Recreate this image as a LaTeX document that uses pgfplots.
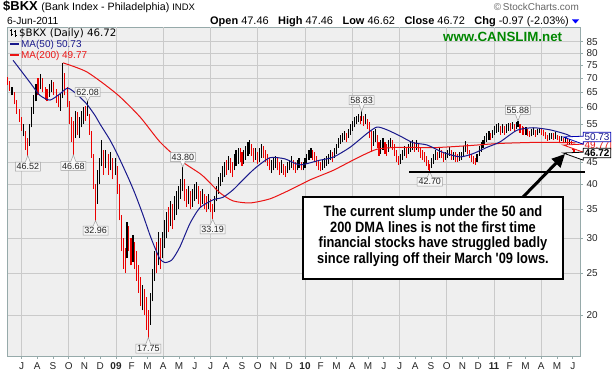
\documentclass[border=0pt]{standalone}
\usepackage{pgfplots}
\pgfplotsset{compat=1.18}
\usepackage{pgfplotstable}
\usepackage{fontspec}
\setmainfont{Liberation Sans}
\newfontfamily\annfont[FakeStretch=0.86]{Liberation Sans}
\newfontfamily\dejavu{DejaVu Sans}
\usetikzlibrary{arrows.meta,shapes.callouts}

\definecolor{bgc}{RGB}{239,239,239}
\definecolor{gridc}{RGB}{202,202,202}
\definecolor{framec}{RGB}{150,170,170}
\definecolor{ma50c}{RGB}{25,25,140}
\definecolor{ma200c}{RGB}{235,20,20}
\definecolor{downc}{RGB}{235,0,0}
\definecolor{canslim}{RGB}{0,135,0}

% daily-ish OHLC ranges: x = months since 1-Jul-2008, lo, hi, d (1 = up/black, 0 = down/red)
\pgfplotstableread{
x lo hi d
-0.90 67.5 70.5 0
-0.75 65.5 69 0
-0.60 64 67 1
-0.45 61 65 0
-0.30 58 62.5 0
-0.15 55.5 59.5 0
0.00 53 57 0
0.15 51.5 55 1
0.28 48 53 0
0.40 46.52 51 0
0.52 49 55 1
0.65 54 60 1
0.78 58 64 1
0.92 62 68 1
1.05 64 70 0
1.20 66 71.5 1
1.35 65 70 0
1.50 62.5 67 0
1.62 62 66 0
1.75 63.5 68 1
1.90 65 69.5 1
2.05 64 68.5 0
2.20 61.5 66 0
2.35 60 64 0
2.50 59 64.5 1
2.62 63 75.9 1
2.75 64 72 0
2.90 60 67 0
3.05 55 62 0
3.18 50 57 0
3.29 46.68 56 0
3.42 51 59 1
3.55 52 58.5 0
3.68 51 57 1
3.82 54 59 1
3.95 55 60 1
4.08 56 60.5 0
4.20 57.5 62.08 1
4.32 52 58 0
4.45 46 53 0
4.58 39 47 0
4.70 32.96 40 0
4.82 36 43 1
4.95 40 46 1
5.08 44 50.5 1
5.20 42 48 0
5.35 43.5 48 1
5.50 42 47 0
5.65 43 47.5 1
5.80 41 46 0
5.95 42 46 1
6.10 38 44 0
6.22 33 40 0
6.35 28 34 0
6.48 25.5 30 0
6.58 25 28.5 0
6.70 27 32.8 1
6.82 28 32 0
6.95 26 30 0
7.08 26.5 30.5 1
7.20 25.5 29.5 0
7.32 24 28 0
7.45 22.5 26 0
7.58 21 24.5 0
7.70 20.5 23.5 1
7.82 20 23 0
7.95 18.5 22 0
8.05 17.75 20.5 0
8.18 19 22.5 1
8.30 21.5 25.5 1
8.45 24 28 1
8.58 25 29.5 0
8.70 26 31 1
8.85 25.5 30 0
8.97 27 31 1
9.10 28.5 33 1
9.22 30 34.5 1
9.35 31 35.5 0
9.48 32 36.5 1
9.60 31.5 36 0
9.72 33 37.5 1
9.85 34 38.5 1
9.97 35 39.5 1
10.10 37 41 1
10.24 38.5 43.8 1
10.36 36.5 41 0
10.50 35.5 39 0
10.62 36 39.5 1
10.75 35 38.5 0
10.88 35.5 39 1
11.00 36.5 40 1
11.12 37 40.5 1
11.25 36 39.5 0
11.38 35.5 38.5 0
11.50 36 39 1
11.62 35 38 0
11.75 34.5 37.5 0
11.88 35 38 1
12.00 34.5 37 0
12.14 33.19 36 0
12.26 34.5 37.5 1
12.38 36.5 39.5 1
12.50 38 41.5 1
12.62 39.5 42.5 1
12.75 40.5 44 1
12.88 41.5 45 1
13.00 42 45.5 0
13.12 43 46.5 1
13.25 42.5 46 0
13.38 41.5 45 0
13.50 43 47 1
13.62 44 48 1
13.75 44.5 48.5 1
13.88 45 48.5 0
14.00 44 47.5 0
14.12 44.5 48 1
14.25 45.5 49 1
14.38 46.5 50 1
14.50 47 50.5 1
14.62 46.5 49.5 0
14.75 45 48.5 0
14.88 45.5 48.5 1
15.00 44.5 47.5 0
15.12 45 48.5 1
15.25 46 49.5 1
15.38 46 49 0
15.50 45 48 0
15.62 44 47 0
15.75 43 46 0
15.88 42.5 45.5 1
16.00 43 46 1
16.12 43.5 46.5 1
16.25 43 46 0
16.38 42 45 0
16.50 42.5 45.5 1
16.62 42 44.5 0
16.75 41.5 44 0
16.88 42.5 45 1
17.00 43 45.5 1
17.12 43.5 46.5 1
17.25 43 45.5 0
17.38 42.5 45 0
17.50 43 45.5 1
17.62 43.5 46 1
17.75 43 45 0
17.88 43 45 1
18.00 43.5 46 1
18.12 44.5 47 1
18.25 45.5 48 1
18.38 46 48.5 1
18.50 45.5 48 0
18.62 45 47.5 0
18.75 44 46.5 0
18.88 43 45.5 0
19.00 42.8 45 0
19.12 43.2 45.5 1
19.25 43.5 46 1
19.38 44 46.5 1
19.50 44.5 47 1
19.62 45.5 48 1
19.75 45 47.5 0
19.88 46 48.5 1
20.00 47 49.5 1
20.12 48.5 51 1
20.25 49.5 52 1
20.38 50 52.5 1
20.50 50.5 53 1
20.62 50 52.5 0
20.75 51 53.5 1
20.88 52 55 1
21.00 53 56 1
21.12 54 57 1
21.25 55 57.5 1
21.38 55.5 58 1
21.50 55 57.5 0
21.60 56 58.83 1
21.72 54.5 57.5 0
21.85 55 58 1
21.97 53.5 56.5 0
22.10 51 55.5 0
22.20 47.5 53 0
22.32 49 53 1
22.45 50 53.5 1
22.58 48.5 52 0
22.70 46.5 50 0
22.82 47 50.5 1
22.95 48 51 1
23.08 47 50 0
23.20 46.5 49.5 0
23.32 47.5 50.5 1
23.45 48.5 51 1
23.58 48 50.5 0
23.70 46.5 49.5 0
23.82 45 48 0
23.95 44.3 46.5 0
24.08 44.5 47 1
24.20 45.5 48 1
24.32 46.5 49 1
24.45 46 48.5 0
24.58 47 49.5 1
24.70 47.5 50 1
24.82 48 50.5 1
24.95 47.5 50 0
25.08 48 50.5 1
25.20 47.5 49.5 0
25.32 46 48.5 0
25.45 45.5 48 0
25.58 45 47.5 0
25.70 44 46.5 0
25.82 43 45.5 0
25.92 42.7 44.5 0
26.05 43.5 46 1
26.18 44.5 47 1
26.30 45.5 48 1
26.42 45.5 47.5 0
26.55 46 48.5 1
26.68 46 48 0
26.80 45 47.5 0
26.92 45.5 47.5 1
27.05 46 48 1
27.18 46.5 48.6 1
27.30 45.5 48 0
27.42 45.5 47.5 1
27.55 45 47.5 0
27.68 45 47 0
27.80 45.2 47.3 1
27.92 45.5 47.5 1
28.05 46.5 49 1
28.18 47.5 50.3 1
28.30 47 49.5 0
28.42 46 48 0
28.55 45 47 0
28.68 44.5 46.5 0
28.80 44.2 46 0
28.92 45 47 1
29.05 46.5 49 1
29.18 47.5 50 1
29.30 48.5 50.5 1
29.42 49.5 51.5 1
29.55 50 52.5 1
29.68 50.5 53 1
29.80 50.5 52.5 0
29.92 51 53.3 1
30.05 52 54.5 1
30.18 52.5 55 1
30.30 52.8 55.4 1
30.42 52 54.5 0
30.55 52.5 55 1
30.68 52 54.5 0
30.80 52.5 55 1
30.92 53 55.2 1
31.05 53 55.3 0
31.18 53.5 55.5 1
31.30 53 55 0
31.42 53.5 55.6 1
31.52 54 55.88 1
31.65 52.5 55 0
31.78 52 54.3 0
31.90 51.8 54 0
32.03 52 54 1
32.15 51.5 53.5 0
32.28 51.2 53 0
32.40 51.5 53.5 1
32.52 51.8 53.8 1
32.65 51.3 53.3 0
32.78 51.8 53.5 1
32.90 52.3 53.9 1
33.03 52 53.5 0
33.15 51.5 53.3 0
33.28 50.8 52.8 0
33.40 50.3 52 0
33.52 50.5 52.3 1
33.65 50.8 52.5 1
33.78 50.5 52.3 0
33.90 50.8 52.6 1
34.03 50.5 52 0
34.15 50 51.6 0
34.28 50.2 51.5 1
34.40 49.6 51 0
34.52 49.8 51.2 1
34.65 49 50.8 0
34.78 49.3 50.9 1
34.90 48.5 50.3 0
35.00 47.8 49.5 0
35.08 47.3 48.6 0
35.16 46.62 47.46 0
}\bars

\tikzset{
  lbl/.style={rectangle callout, draw=black!38, fill=white!97!black, inner sep=1.3bp,
    font=\fontsize{9}{10}\selectfont, text=black!85, callout pointer width=5bp, line width=0.5bp},
  rlbl/.style={rectangle callout, fill=white, inner sep=1.3bp,
    font=\fontsize{10}{11}\selectfont, line width=0.8bp, callout pointer width=8bp},
}

\begin{document}
\begin{tikzpicture}[x=1bp,y=1bp]
\useasboundingbox (-7,-18) rectangle (607,356);
\begin{axis}[
  scale only axis, width=573bp, height=328.5bp,
  at={(0,0)}, anchor=south west,
  xmin=-0.9206, xmax=35.46,
  ymode=log, ymin=16.10, ymax=91.64,
  axis background/.style={fill=bgc},
  axis line style={framec, line width=0.8bp},
  xtick={0,...,35},
  xticklabels={J,A,S,O,N,D,\textbf{09},F,M,A,M,J,J,A,S,O,N,D,\textbf{10},F,M,A,M,J,J,A,S,O,N,D,\textbf{11},F,M,A,M,J},
  xtick pos=left, ytick pos=right, yticklabel pos=right,
  tick align=outside, major tick length=3bp,
  tick style={framec, line width=0.6bp},
  extra x ticks={0,3,6,9,12,15,18,21,24,27,30,33},
  extra x tick labels={},
  extra x tick style={grid=major, major tick length=0pt},
  ytick={20,25,30,35,40,45,50,55,60,65,70,75,80,85},
  yticklabels={20,25,30,35,40,45,50,55,60,65,70,75,80,85},
  ymajorgrids, grid style={gridc, line width=0.6bp},
  ticklabel style={font=\fontsize{10}{12}\selectfont, text=black!85},
  /pgf/number format/assume math mode=true,
  clip mode=individual,
]
% down bars (red)
\addplot[draw=none, mark=none, forget plot, restrict expr to domain={\thisrow{d}}{-0.5:0.5},
  error bars/.cd, y dir=plus, y explicit, error mark=none,
  error bar style={draw=downc, line width=1.1bp}]
  table[x=x, y=lo, y error expr=\thisrow{hi}-\thisrow{lo}] {\bars};
% up bars (black)
\addplot[draw=none, mark=none, forget plot, restrict expr to domain={\thisrow{d}}{0.5:1.5},
  error bars/.cd, y dir=plus, y explicit, error mark=none,
  error bar style={draw=black, line width=1.1bp}]
  table[x=x, y=lo, y error expr=\thisrow{hi}-\thisrow{lo}] {\bars};
% MA(200) (visible from under the legend)
\addplot[ma200c, line width=1bp, smooth, tension=0.4] coordinates {
(2.63,76) (4.16,72.4) (6.06,64.4) (7.52,57.1) (8.79,50) (10.06,45.4)
(11.33,42.3) (11.78,40.9) (12.60,38.2) (13.43,36.6) (14.51,36.2) (15.78,37) (17.05,38.8)
(18.32,40.9) (19.78,43) (21.30,45.9) (22.57,48.1) (24.03,48.6) (26.13,48.5) (28.29,49.0)
(30.38,49.6) (32.92,49.9) (35.16,49.77)};
% MA(50)
\addplot[ma50c, line width=1bp, smooth, tension=0.4] coordinates {
(-0.54,77) (-0.41,76) (0.54,68.5) (1.17,64) (1.81,62.4) (2.44,64.5) (2.95,66.5) (3.59,64)
(4.16,61) (4.67,57.5) (4.98,55) (5.62,50.5) (6.13,46.5) (6.76,41.5) (7.21,38) (7.71,34)
(8.16,30.5) (8.48,28.5) (8.79,26.9) (9.11,26.4) (9.56,26.8) (10.06,28.7) (10.70,32.5)
(11.33,35.3) (12.16,36.8) (12.79,37.3) (13.43,38.8) (14.06,40.9) (14.83,43.5) (15.78,46)
(16.73,45.7) (17.68,44.3) (18.95,45.4) (19.78,46.1) (20.86,48.6) (21.94,52.3) (22.57,54.1)
(23.21,53.3) (24.03,51.6) (24.86,49.8) (25.75,49.2) (26.76,47.3) (27.84,46.2) (28.67,47)
(29.56,48.6) (30.38,50) (31.46,53.2) (32.48,53.9) (33.56,53.3) (34.63,52) (35.16,50.73)};
% anchor points of the value call-outs
\coordinate (c1) at (axis cs:0.40,46.52);
\coordinate (c2) at (axis cs:3.29,46.68);
\coordinate (c3) at (axis cs:4.20,62.08);
\coordinate (c4) at (axis cs:4.70,32.96);
\coordinate (c5) at (axis cs:10.24,43.8);
\coordinate (c6) at (axis cs:8.05,17.75);
\coordinate (c7) at (axis cs:12.14,33.19);
\coordinate (c8) at (axis cs:21.60,58.83);
\coordinate (c9) at (axis cs:25.92,42.70);
\coordinate (c10) at (axis cs:31.52,55.88);
\end{axis}

% value call-outs
\node[lbl, callout absolute pointer={(c1)}] at ([yshift=-11bp]c1) {46.52};
\node[lbl, callout absolute pointer={(c2)}] at ([yshift=-11bp]c2) {46.68};
\node[lbl, callout absolute pointer={(c3)}] at ([yshift=9bp]c3) {62.08};
\node[lbl, callout absolute pointer={(c4)}] at ([yshift=-10bp]c4) {32.96};
\node[lbl, callout absolute pointer={(c5)}] at ([yshift=10bp]c5) {43.80};
\node[lbl, callout absolute pointer={(c6)}] at ([yshift=-11bp]c6) {17.75};
\node[lbl, callout absolute pointer={(c7)}] at ([yshift=-10bp]c7) {33.19};
\node[lbl, callout absolute pointer={(c8)}] at ([yshift=11bp]c8) {58.83};
\node[lbl, callout absolute pointer={(c9)}] at ([yshift=-10bp]c9) {42.70};
\node[lbl, callout absolute pointer={(c10)}] at ([yshift=11bp]c10) {55.88};

% header
\node[anchor=base west, inner sep=0] at (-4,345.3) {\fontsize{13}{14}\selectfont\bfseries \$BKX\ \mdseries\fontsize{10.7}{12}\selectfont (Bank Index - Philadelphia)\ \fontsize{9.5}{10}\selectfont INDX};
\node[anchor=base west, inner sep=0, font=\fontsize{10.3}{11}\selectfont] at (0,332) {6-Jun-2011};
\node[anchor=base east, inner sep=0, font=\fontsize{11}{12}\selectfont] at (562,332) {\textbf{Open} 47.46\hspace{6.5bp} \textbf{High} 47.46\hspace{6.5bp} \textbf{Low} 46.62\hspace{6.5bp} \textbf{Close} 46.72\hspace{6.5bp} \textbf{Chg} -0.97 (-2.03\%)};
\fill[blue] (565,336.5) -- (572,336.5) -- (568.5,332.5) -- cycle;
\node[anchor=base east, inner sep=0, font=\fontsize{10}{11}\selectfont, text=black!60] at (572,345.3) {\textcopyright\,StockCharts.com};

% legend
\draw[line width=0.8bp] (4,320)--(4,327) (2.5,325.5)--(4,325.5) (4,321.5)--(5.5,321.5);
\draw[line width=0.8bp] (8,319)--(8,326) (6.5,324.5)--(8,324.5) (8,320.5)--(9.5,320.5);
\node[anchor=base west, inner sep=0, font=\dejavu\fontsize{10.3}{11}\selectfont] at (12,319.5) {\$BKX (Daily) 46.72};
\draw[ma50c, line width=1.6bp] (3,311.8)--(12,311.8);
\node[anchor=base west, inner sep=0, font=\fontsize{10}{11}\selectfont, text=ma50c] at (14,308.5) {MA(50) 50.73};
\draw[ma200c, line width=1.6bp] (3,300.8)--(12,300.8);
\node[anchor=base west, inner sep=0, font=\fontsize{10}{11}\selectfont, text=ma200c] at (14,297.5) {MA(200) 49.77};

% watermark
\node[anchor=base west, inner sep=0, font=\fontsize{13.4}{14}\selectfont\bfseries, text=canslim] at (436,315) {www.CANSLIM.net};

% right-edge value tags
\node[rlbl, draw=ma200c, text=ma200c, callout relative pointer={(-20bp,0)}] at (590,211) {49.77};
\node[rlbl, draw=blue!70!black, text=ma50c, callout relative pointer={(-20bp,0)}] at (590,219) {50.73};
\node[rlbl, draw=black, text=black, font=\fontsize{10}{11}\selectfont\bfseries, callout relative pointer={(-20bp,0)}] at (590,203) {46.72};

% annotation
\draw[line width=2bp] (402,184.3)--(578,184.3);
\draw[line width=2bp, fill=white] (296,77) rectangle (556,159);
\draw[line width=3bp, -{Triangle[length=13bp,width=12bp]}] (516,159)--(558,202);
\node[align=center, inner sep=0, font=\annfont\bfseries\fontsize{15}{15.6}\selectfont] at (426,120)
  {The current slump under the 50 and\\200 DMA lines is not the first time\\financial stocks have struggled badly\\since rallying off their March '09 lows.};
\end{tikzpicture}
\end{document}
